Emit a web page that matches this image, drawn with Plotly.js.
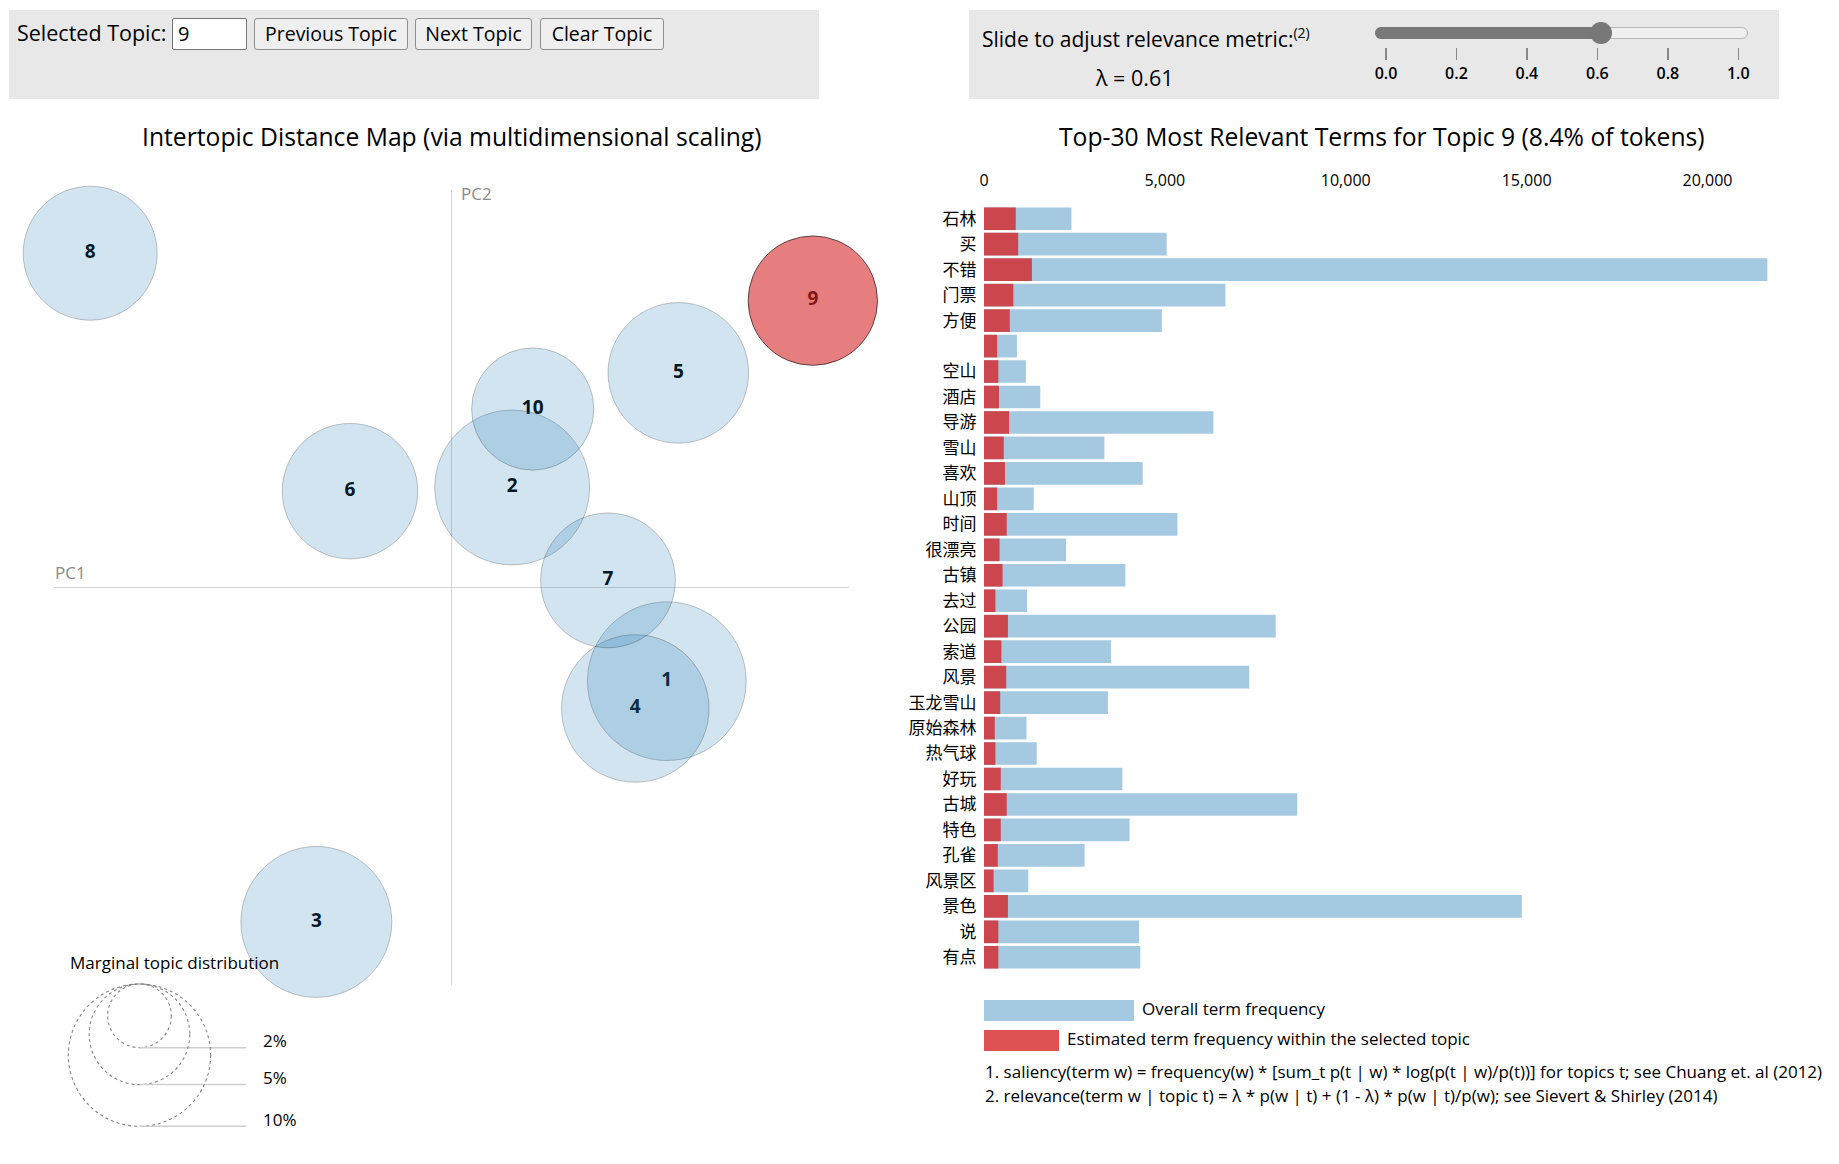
<!DOCTYPE html>
<html>
<head>
<meta charset="utf-8">
<script src="https://cdn.plot.ly/plotly-3.0.1.min.js"></script>
<style>
  body { margin: 0; background: #fff; font-family: "Open Sans", sans-serif; }
  #wrap { position: relative; width: 1839px; height: 1164px; overflow: hidden; }
  #chart { position: absolute; left: 0; top: 0; width: 1839px; height: 1164px; }
  .box { position: absolute; background: #e8e8e8; }
  .t { position: absolute; white-space: nowrap; color: #000; }
  .btn { position: absolute; box-sizing: border-box; top: 18px; height: 32px; background: #efefef;
         border: 1px solid #8f8f8f; border-radius: 3px; font-size: 19.5px; text-align: center;
         line-height: 29px; color: #000; }
  .inp { position: absolute; box-sizing: border-box; left: 172px; top: 18px; width: 75px; height: 32px;
         background: #fff; border: 1px solid #767676; border-radius: 2px; font-size: 20px;
         line-height: 29px; padding-left: 5px; }
  .tick { position: absolute; top: 48px; width: 1.5px; height: 12px; background: #888; }
  .tlab { position: absolute; top: 62px; height: 22px; line-height: 22px; width: 40px; margin-left: -20px;
          text-align: center; font-size: 16px; font-weight: 600; color: #000; }
  .sup { position: relative; top: -9px; font-size: 14px; }
</style>
</head>
<body>
<div id="wrap">
  <div id="chart"></div>

  <div class="box" style="left:9px;top:10px;width:810px;height:89px;"></div>
  <div class="box" style="left:969px;top:10px;width:810px;height:89px;"></div>

  <div class="t" style="left:17px;top:18px;height:30px;line-height:30px;font-size:21.5px;">Selected Topic:</div>
  <div class="inp" id="topicInput">9</div>
  <div class="btn" style="left:254px;width:154px;">Previous Topic</div>
  <div class="btn" style="left:415px;width:117px;">Next Topic</div>
  <div class="btn" style="left:540px;width:124px;">Clear Topic</div>

  <div class="t" style="left:982px;top:23px;height:32px;line-height:32px;font-size:21px;">Slide to adjust relevance metric:<span class="sup">(2)</span></div>
  <div class="t" id="lambdaText" style="left:1096px;top:62px;height:32px;line-height:32px;font-size:21.5px;"></div>
  <div id="slider"></div>
</div>

<script>
// ---------------- data ----------------
const selectedTopic = 9;
const lambdaValue = 0.61;

const topicIds = [1, 2, 3, 4, 5, 6, 7, 8, 9, 10];
const topicPC1 = [0.1625, 0.0458, -0.1020, 0.1387, 0.1712, -0.0766, 0.1181, -0.2727, 0.2727, 0.0613];
const topicPC2 = [-0.0707, 0.0755, -0.2524, -0.0913, 0.1620, 0.0727, 0.0054, 0.2523, 0.2165, 0.1347];
const topicShare = [12.6, 12.0, 11.4, 10.9, 9.9, 9.2, 9.1, 9.0, 8.4, 7.5];   // % of tokens
const legendShares = [2, 5, 10];

const terms = ['石林', '买', '不错', '门票', '方便', '', '空山', '酒店', '导游', '雪山',
               '喜欢', '山顶', '时间', '很漂亮', '古镇', '去过', '公园', '索道', '风景', '玉龙雪山',
               '原始森林', '热气球', '好玩', '古城', '特色', '孔雀', '风景区', '景色', '说', '有点'];
const overallFreq = [2417, 5050, 21655, 6672, 4917, 911, 1159, 1556, 6341, 3328,
                     4387, 1374, 5348, 2268, 3907, 1192, 8063, 3510, 7334, 3427,
                     1175, 1457, 3824, 8659, 4023, 2781, 1225, 14867, 4288, 4321];
const topicFreq = [877, 944, 1324, 811, 712, 364, 397, 414, 695, 546,
                   579, 364, 629, 430, 513, 315, 662, 480, 613, 447,
                   298, 315, 464, 629, 464, 381, 265, 662, 397, 397];
const xTicks = [0, 5000, 10000, 15000, 20000];
const sliderTicks = [0, 0.2, 0.4, 0.6, 0.8, 1.0];

// ---------------- helpers ----------------
const W = 1839, H = 1164;
const px = x => x / W;
const py = y => 1 - y / H;
const diam = p => 45 * Math.sqrt(p);           // circle diameter scale (px) for % share
const FONT = '"Open Sans", sans-serif';
const CJK = '"Noto Sans CJK SC", sans-serif';

const blue = 'rgba(31,119,180,0.4)';
const red = 'rgba(214,39,40,0.8)';

// ---------------- traces ----------------
const labelTrace = {
  type: 'scatter', mode: 'text', x: topicPC1, y: topicPC2,
  text: topicIds.map(String), textposition: 'middle center',
  textfont: { family: FONT, size: 19, weight: 'bold', color: '#000' },
  xaxis: 'x', yaxis: 'y', hoverinfo: 'none', cliponaxis: false, showlegend: false
};
const circleTrace = {
  type: 'scatter', mode: 'markers', x: topicPC1, y: topicPC2,
  marker: {
    opacity: 1,
    size: topicShare.map(p => diam(p) - 1),
    color: topicIds.map(t => t === selectedTopic ? 'rgba(214,39,40,0.6)' : 'rgba(31,119,180,0.2)'),
    line: { width: 1, color: topicIds.map(t => t === selectedTopic ? 'rgba(0,0,0,0.6)' : 'rgba(0,0,0,0.22)') }
  },
  xaxis: 'x', yaxis: 'y', hoverinfo: 'none', cliponaxis: false, showlegend: false
};
const idx = terms.map((_, i) => i);
const overallTrace = {
  type: 'bar', orientation: 'h', x: overallFreq, y: idx, width: 0.89,
  marker: { color: blue, line: { width: 0 } }, xaxis: 'x2', yaxis: 'y2', hoverinfo: 'none', showlegend: false
};
const topicTrace = {
  type: 'bar', orientation: 'h', x: topicFreq, y: idx, width: 0.89,
  marker: { color: red, line: { width: 0 } }, xaxis: 'x2', yaxis: 'y2', hoverinfo: 'none', showlegend: false
};

// ---------------- decorations ----------------
const shapes = [];
const annotations = [];
const ann = (text, x, y, opts) => annotations.push(Object.assign({
  text, x: px(x), y: py(y), xref: 'paper', yref: 'paper', showarrow: false,
  xanchor: 'left', yanchor: 'middle', font: { family: FONT, size: 17, color: '#000' }
}, opts || {}));

ann('Intertopic Distance Map (via multidimensional scaling)', 451.5, 136,
    { xanchor: 'center', font: { family: FONT, size: 24.7, color: '#000' } });
const topicPct = topicShare[topicIds.indexOf(selectedTopic)];
ann('Top-30 Most Relevant Terms for Topic ' + selectedTopic + ' (' + topicPct.toFixed(1) + '% of tokens)', 1382, 136,
    { xanchor: 'center', font: { family: FONT, size: 24.7, color: '#000' } });
ann('PC1', 53, 572, { font: { family: FONT, size: 17, color: '#8a8a8a' } });
ann('PC2', 459, 194, { font: { family: FONT, size: 17, color: '#8a8a8a' } });

// marginal topic distribution legend
ann('Marginal topic distribution', 68, 963);
const legCx = 139.5, legTop = 984, legLineEnd = 246;
legendShares.forEach(p => {
  const d = diam(p);
  shapes.push({ type: 'circle', xref: 'paper', yref: 'paper',
    x0: px(legCx - d / 2), x1: px(legCx + d / 2), y0: py(legTop + d), y1: py(legTop),
    line: { color: '#858585', width: 1.1, dash: 'dot' }, fillcolor: 'rgba(0,0,0,0)' });
  shapes.push({ type: 'line', xref: 'paper', yref: 'paper',
    x0: px(legCx), x1: px(legLineEnd), y0: py(legTop + d), y1: py(legTop + d),
    line: { color: '#cfcfcf', width: 1.5 } });
  ann(p + '%', 261, legTop + d - 7);
});

// bar legend
shapes.push({ type: 'rect', xref: 'paper', yref: 'paper', x0: px(984), x1: px(1134), y0: py(1021), y1: py(1000),
  fillcolor: blue, line: { width: 0 } });
shapes.push({ type: 'rect', xref: 'paper', yref: 'paper', x0: px(984), x1: px(1059), y0: py(1051), y1: py(1030),
  fillcolor: red, line: { width: 0 } });
ann('Overall term frequency', 1140, 1008);
ann('Estimated term frequency within the selected topic', 1065, 1038);
ann('1. saliency(term w) = frequency(w) * [sum_t p(t | w) * log(p(t | w)/p(t))] for topics t; see Chuang et. al (2012)', 983, 1071);
ann('2. relevance(term w | topic t) = \u03bb * p(w | t) + (1 - \u03bb) * p(w | t)/p(w); see Sievert &amp; Shirley (2014)', 983, 1095);

// ---------------- layout ----------------
const layout = {
  width: W, height: H, margin: { l: 0, r: 0, t: 0, b: 0 },
  paper_bgcolor: '#fff', plot_bgcolor: 'rgba(0,0,0,0)',
  barmode: 'overlay', showlegend: false,
  font: { family: FONT, color: '#000' },
  xaxis: { domain: [px(54), px(849)], range: [-0.3, 0.3], showgrid: false, zeroline: true,
           zerolinecolor: '#d4d4d4', zerolinewidth: 1, showticklabels: false, ticks: '', showline: false, fixedrange: true },
  yaxis: { domain: [py(985), py(190)], range: [-0.3, 0.3], showgrid: false, zeroline: true,
           zerolinecolor: '#d4d4d4', zerolinewidth: 1, showticklabels: false, ticks: '', showline: false, fixedrange: true },
  xaxis2: { domain: [px(984), px(1784)], range: [0, 22115], anchor: 'y2', side: 'top',
            tickvals: xTicks, tickformat: ',d', tickfont: { family: FONT, size: 16, color: '#000' },
            ticks: 'outside', ticklen: 13, tickcolor: 'rgba(0,0,0,0)', showgrid: false, zeroline: false, showline: false, fixedrange: true },
  yaxis2: { domain: [py(970), py(206)], range: [29.5, -0.5], anchor: 'x2',
            tickvals: idx, ticktext: terms, tickfont: { family: CJK, size: 17, color: '#000' },
            ticks: 'outside', ticklen: 3, tickcolor: 'rgba(0,0,0,0)', showgrid: false, zeroline: false, showline: false, fixedrange: true },
  shapes, annotations
};

Plotly.newPlot('chart', [labelTrace, circleTrace, overallTrace, topicTrace], layout,
  { displayModeBar: false, staticPlot: true });

// ---------------- slider (relevance metric control) ----------------
const slider = document.getElementById('slider');
const sx0 = 1386, sx1 = 1738.3;                         // pixel span of lambda 0..1
const sx = v => sx0 + (sx1 - sx0) * v;
const knobX = sx(lambdaValue);
slider.innerHTML =
  '<div style="position:absolute;left:1375px;top:27px;width:373px;height:12px;box-sizing:border-box;border:1px solid #b5b5b5;border-radius:6px;background:#efefef;"></div>' +
  '<div style="position:absolute;left:1375px;top:27px;width:' + (knobX - 1375) + 'px;height:12px;border-radius:6px 0 0 6px;background:#787878;"></div>' +
  '<div style="position:absolute;left:' + (knobX - 11) + 'px;top:22px;width:22px;height:22px;border-radius:11px;background:#787878;"></div>' +
  sliderTicks.map(v => '<div class="tick" style="left:' + (sx(v) - 0.75) + 'px;"></div>' +
    '<div class="tlab" style="left:' + sx(v) + 'px;">' + v.toFixed(1) + '</div>').join('');
document.getElementById('lambdaText').textContent = '\u03bb = ' + lambdaValue.toFixed(2);
</script>
</body>
</html>
